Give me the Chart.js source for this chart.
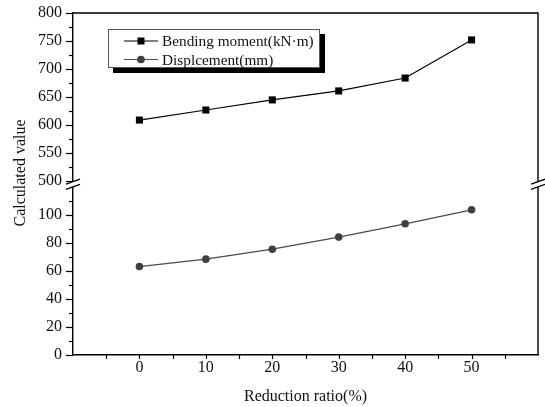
<!DOCTYPE html>
<html>
<head>
<meta charset="utf-8">
<script src="https://cdn.jsdelivr.net/npm/chart.js@4/dist/chart.umd.min.js"></script>
<style>
  html, body { margin: 0; padding: 0; background: #fff; }
  canvas { display: block; }
</style>
</head>
<body>
<canvas id="chart" width="545" height="407"></canvas>
<script>
// ---- data ----
const reductionRatio = [0, 10, 20, 30, 40, 50];
const bendingMoment  = [609, 627, 645, 661, 684, 752];      // kN·m
const displacement   = [63.1, 68.4, 75.5, 84.1, 93.6, 103.6]; // mm
const lowerTicks = [0, 20, 40, 60, 80, 100];
const upperTicks = [500, 550, 600, 650, 700, 750, 800];
const lowerMinor = [10, 30, 50, 70, 90, 110];
const upperMinor = [525, 575, 625, 675, 725, 775];
const xTickLabels = [0, 10, 20, 30, 40, 50];

// ---- broken y axis: 0–120 below the break, 500–800 compressed above it ----
const UPPER_BASE = 500, BREAK_AT = 124, UPPER_FACTOR = 0.4, LOWER_TOP = 120;
const toAxis = v => v >= UPPER_BASE ? BREAK_AT + (v - UPPER_BASE) * UPPER_FACTOR : v;
const fromAxis = a => a >= BREAK_AT - 1e-6 ? UPPER_BASE + (a - BREAK_AT) / UPPER_FACTOR : a;

const FONT = '"Liberation Serif", "Times New Roman", serif';
const INK = '#111';

const series = [
  { label: 'Bending moment(kN\u00B7m)', values: bendingMoment, line: '#000', fill: '#000', style: 'rect', radius: 5 },
  { label: 'Displcement(mm)', values: displacement, line: '#4a4a4a', fill: '#3f3f3f', style: 'circle', radius: 3.8 }
];

const decorations = {
  id: 'decorations',
  afterDraw(chart) {
    const { ctx, chartArea: a, scales: { x, y } } = chart;
    ctx.save();
    ctx.strokeStyle = '#000';
    ctx.lineWidth = 1.4;

    // frame: top and right edges
    ctx.beginPath();
    ctx.moveTo(a.left, a.top); ctx.lineTo(a.right, a.top); ctx.lineTo(a.right, a.bottom);
    ctx.stroke();

    // y tick marks (outside, left)
    ctx.lineWidth = 1.2;
    const yMark = (v, len) => {
      const py = Math.round(y.getPixelForValue(toAxis(v))) + 0.5;
      ctx.beginPath(); ctx.moveTo(a.left - len, py); ctx.lineTo(a.left, py); ctx.stroke();
    };
    [...lowerTicks, ...upperTicks].forEach(v => yMark(v, 7));
    [...lowerMinor, ...upperMinor].forEach(v => yMark(v, 4));

    // x tick marks (outside, below)
    for (let v = -5; v <= 55; v += 5) {
      const px = Math.round(x.getPixelForValue(v)) + 0.5;
      ctx.beginPath(); ctx.moveTo(px, a.bottom); ctx.lineTo(px, a.bottom + 4); ctx.stroke();
    }

    // axis break marks on both vertical edges
    const yUp = y.getPixelForValue(BREAK_AT) + 0.5;
    const yLo = y.getPixelForValue(LOWER_TOP);
    [a.left, a.right].forEach(ax => {
      ctx.fillStyle = '#fff';
      ctx.beginPath();
      ctx.moveTo(ax - 3, yUp + 1); ctx.lineTo(ax + 3, yUp - 1);
      ctx.lineTo(ax + 3, yLo - 1); ctx.lineTo(ax - 3, yLo + 1);
      ctx.closePath(); ctx.fill();
      ctx.lineWidth = 1.3;
      ctx.beginPath();
      ctx.moveTo(ax - 7, yUp + 2.5); ctx.lineTo(ax + 7, yUp - 2.5);
      ctx.moveTo(ax - 7, yLo + 2.5); ctx.lineTo(ax + 7, yLo - 2.5);
      ctx.stroke();
    });

    // y axis title
    ctx.fillStyle = INK;
    ctx.font = '16px ' + FONT;
    ctx.textAlign = 'center';
    ctx.textBaseline = 'middle';
    ctx.translate(21, 173);
    ctx.rotate(-Math.PI / 2);
    ctx.fillText('Calculated value', 0, 0);
    ctx.setTransform(1, 0, 0, 1, 0, 0);

    // legend box with drop shadow
    const bx = 108, by = 29, bw = 212, bh = 39, sh = 5;
    ctx.fillStyle = '#000';
    ctx.fillRect(bx + sh, by + bh, bw, sh);
    ctx.fillRect(bx + bw, by + sh, sh, bh);
    ctx.fillStyle = '#fff';
    ctx.fillRect(bx, by, bw, bh);
    ctx.strokeStyle = '#555';
    ctx.lineWidth = 1;
    ctx.strokeRect(bx + 0.5, by + 0.5, bw - 1, bh - 1);

    series.forEach((s, i) => {
      const ry = by + 12 + i * 18.5;
      ctx.strokeStyle = s.line; ctx.lineWidth = 1.2;
      ctx.beginPath(); ctx.moveTo(124, ry); ctx.lineTo(158, ry); ctx.stroke();
      ctx.fillStyle = s.fill;
      if (s.style === 'rect') {
        ctx.fillRect(141 - 3.5, ry - 3.5, 7, 7);
      } else {
        ctx.beginPath(); ctx.arc(141, ry, s.radius, 0, Math.PI * 2); ctx.fill();
      }
      ctx.fillStyle = INK;
      ctx.font = '15.3px ' + FONT;
      ctx.textAlign = 'left';
      ctx.textBaseline = 'middle';
      ctx.fillText(s.label, 162, ry + 1);
    });
    ctx.restore();
  }
};

new Chart(document.getElementById('chart'), {
  type: 'line',
  data: {
    datasets: series.map(s => ({
      label: s.label,
      data: reductionRatio.map((r, i) => ({ x: r, y: toAxis(s.values[i]) })),
      borderColor: s.line,
      borderWidth: 1.2,
      backgroundColor: s.fill,
      pointBackgroundColor: s.fill,
      pointBorderColor: s.fill,
      pointBorderWidth: 0,
      pointStyle: s.style,
      pointRadius: s.radius,
      tension: 0
    }))
  },
  options: {
    responsive: false,
    animation: false,
    events: [],
    layout: { padding: { top: 13, right: 7, left: 0, bottom: 0 } },
    plugins: { legend: { display: false }, tooltip: { enabled: false } },
    scales: {
      x: {
        type: 'linear',
        min: -10, max: 60,
        afterBuildTicks: s => { s.ticks = [-10, ...xTickLabels, 60].map(v => ({ value: v })); },
        afterFit: s => { s.height = 52; s.paddingLeft = 0; s.paddingRight = 0; },
        grid: { display: true, drawOnChartArea: false, drawTicks: false },
        border: { display: true, color: '#000', width: 1.4 },
        ticks: {
          autoSkip: false, maxRotation: 0, padding: 3, color: INK,
          font: { family: FONT, size: 16 },
          callback: v => xTickLabels.includes(v) ? String(v) : ''
        },
        title: {
          display: true, text: 'Reduction ratio(%)', color: INK,
          font: { family: FONT, size: 16 }, padding: { top: 0, bottom: 1 }
        }
      },
      y: {
        type: 'linear',
        min: 0, max: 244,
        afterBuildTicks: s => { s.ticks = [...lowerTicks, ...upperTicks].map(v => ({ value: toAxis(v) })); },
        afterFit: s => { s.width = 73; s.paddingTop = 0; s.paddingBottom = 0; },
        grid: { display: true, drawOnChartArea: false, drawTicks: false },
        border: { display: true, color: '#000', width: 1.4 },
        ticks: {
          autoSkip: false, padding: 11, color: INK,
          font: { family: FONT, size: 16 },
          callback: v => String(Math.round(fromAxis(v)))
        }
      }
    }
  },
  plugins: [decorations]
});
</script>
</body>
</html>
